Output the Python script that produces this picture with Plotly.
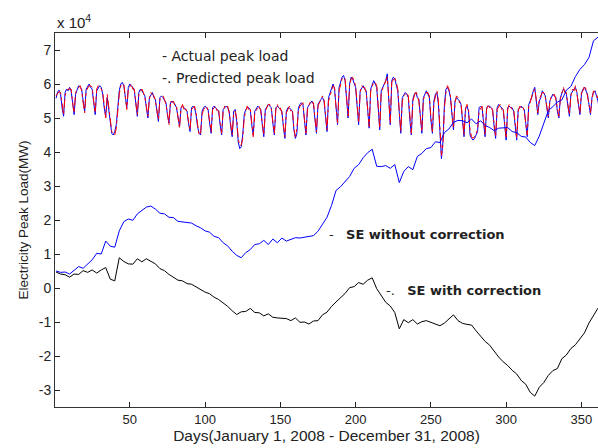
import plotly.graph_objects as go

# Daily peak load for 2008 (MW). First row is Tue 1 Jan - Sun 6 Jan,
# then one row per Monday-Sunday week, then Mon 29 - Wed 31 Dec.
actual_rows = [
    [55800, 57600, 58200, 57000, 53000, 50500],
    [57500, 58500, 58000, 59000, 58000, 54000, 51000],
    [57000, 58000, 59500, 59000, 58500, 55000, 52000],
    [58500, 59500, 60000, 59000, 58500, 54500, 51000],
    [58000, 59000, 59500, 59000, 57000, 53000, 50500],
    [56000, 52000, 48000, 45500, 45000, 46000, 48000],
    [54000, 58000, 60000, 60500, 59500, 56000, 53000],
    [59000, 60000, 59500, 59000, 58000, 54000, 50500],
    [57500, 58500, 58000, 57000, 56500, 53000, 50000],
    [56000, 57000, 57500, 56000, 55500, 52000, 49000],
    [56000, 56500, 56000, 55000, 54500, 51000, 48500],
    [54500, 55000, 54500, 54000, 53000, 50000, 47500],
    [53000, 53500, 53000, 52500, 52000, 48500, 46000],
    [53000, 53500, 53000, 51000, 47500, 45500, 45000],
    [52000, 53000, 53500, 53000, 52500, 48500, 45500],
    [53000, 53500, 53000, 52500, 52000, 48000, 45000],
    [52500, 53000, 53500, 53000, 52000, 47500, 44500],
    [52000, 52500, 49000, 43000, 41000, 41500, 45000],
    [51000, 52500, 53000, 53000, 52500, 48000, 45000],
    [52000, 53000, 53500, 53000, 52500, 48000, 44500],
    [52500, 53500, 54000, 53500, 53000, 48500, 45000],
    [53000, 53500, 53000, 52500, 52000, 47500, 44000],
    [52000, 53000, 53000, 52500, 52000, 46500, 44000],
    [45500, 53000, 54000, 54500, 54000, 49000, 45000],
    [53000, 54000, 54500, 55000, 54000, 49500, 45500],
    [54000, 55000, 55500, 56000, 55000, 50500, 46000],
    [56000, 57500, 59000, 60000, 58500, 52500, 48000],
    [59000, 61000, 62000, 62500, 61000, 55500, 50000],
    [60000, 62000, 61500, 60500, 59000, 53500, 48000],
    [58000, 59000, 59500, 58500, 58000, 52500, 47000],
    [58500, 60000, 61000, 60000, 59000, 53000, 46500],
    [58000, 59000, 59500, 61000, 63000, 55000, 48000],
    [61000, 62000, 61500, 60000, 58000, 51500, 45500],
    [56000, 57000, 57500, 57000, 56000, 49500, 45000],
    [55500, 57000, 57500, 56000, 55500, 50000, 45500],
    [56000, 57000, 58000, 57000, 56000, 49500, 45500],
    [55000, 57000, 57500, 54000, 46000, 38000, 43000],
    [54000, 58500, 59000, 58000, 56000, 51000, 46500],
    [55000, 56000, 55500, 55000, 54000, 48500, 44500],
    [53000, 53500, 52000, 45000, 44000, 43500, 44000],
    [45000, 46000, 53000, 53500, 53000, 48500, 44500],
    [53000, 53500, 53500, 53000, 52500, 47500, 44000],
    [53000, 54000, 53500, 53000, 52500, 48000, 43500],
    [53000, 53500, 53000, 53000, 52000, 47500, 43500],
    [52500, 53000, 53500, 53000, 52500, 48500, 44500],
    [54000, 55000, 56000, 58000, 59000, 55000, 51000],
    [55000, 56000, 58000, 57000, 56500, 53000, 50000],
    [55000, 56000, 57000, 56500, 56000, 52000, 50000],
    [56000, 57500, 58500, 58000, 57000, 53500, 50500],
    [57000, 58000, 58500, 59000, 57500, 54000, 51000],
    [57000, 58500, 59000, 58000, 57000, 54000, 51000],
    [56000, 57500, 58000, 56500, 55000, 52000, 50000],
    [55000, 54000, 53000],
]

predicted_rows = [
    [56500, 57000, 57800, 57500, 54000, 51000],
    [56500, 58000, 58500, 58500, 58500, 54500, 51500],
    [57500, 58500, 59000, 59500, 58000, 54500, 51500],
    [58000, 59000, 59500, 59500, 59000, 55000, 51500],
    [58500, 59500, 59000, 58500, 57500, 53500, 50000],
    [57000, 53500, 49000, 46000, 45500, 45000, 47000],
    [53000, 57000, 59500, 60000, 60000, 56500, 52500],
    [58500, 59500, 60000, 58500, 58500, 54500, 51000],
    [57000, 58000, 58500, 57500, 56000, 53500, 50500],
    [55500, 57500, 57000, 56500, 55000, 52500, 49500],
    [55500, 56000, 56500, 55500, 54000, 51500, 48000],
    [55000, 54500, 55000, 53500, 53500, 49500, 47000],
    [52500, 54000, 52500, 53000, 51500, 49000, 46500],
    [52500, 53000, 53500, 51500, 48500, 45000, 45500],
    [51000, 52500, 53000, 53500, 52000, 49000, 46000],
    [52500, 53000, 53500, 52000, 52500, 48500, 45500],
    [52000, 53500, 53000, 53500, 51500, 48000, 45000],
    [51500, 52000, 50000, 44000, 42000, 42000, 44000],
    [50000, 52000, 53500, 52500, 53000, 48500, 44500],
    [51500, 52500, 53000, 53500, 52000, 48500, 45000],
    [52000, 53000, 54000, 54000, 52500, 49000, 45500],
    [52500, 54000, 52500, 53000, 51500, 48000, 44500],
    [51500, 52500, 53500, 52000, 52500, 47000, 44500],
    [47000, 52000, 53500, 54000, 54500, 49500, 45500],
    [52500, 53500, 55000, 54500, 54500, 50000, 46000],
    [53500, 54500, 55000, 56500, 55500, 51000, 46500],
    [55000, 57000, 58000, 59500, 59000, 53000, 48500],
    [58000, 60000, 61500, 62000, 61500, 56000, 50500],
    [59500, 61500, 62000, 61000, 59500, 54000, 48500],
    [57500, 59500, 59000, 59000, 57500, 53000, 47500],
    [58000, 59500, 60500, 60500, 59500, 53500, 47000],
    [57500, 58500, 60000, 60500, 62000, 56000, 48500],
    [60500, 61500, 62000, 60500, 58500, 52000, 46000],
    [55000, 56500, 57000, 57500, 56500, 50000, 45500],
    [55000, 56500, 58000, 56500, 55000, 50500, 46000],
    [55500, 56500, 57500, 57500, 56500, 50000, 46000],
    [54500, 56500, 58000, 55000, 47500, 39000, 42000],
    [53000, 57500, 59500, 58500, 56500, 51500, 47000],
    [54500, 56500, 56000, 54500, 54500, 49000, 45000],
    [52500, 54000, 52500, 46500, 44500, 44000, 44500],
    [45500, 46500, 52000, 53000, 53500, 49000, 45000],
    [52500, 54000, 53000, 53500, 52000, 48000, 44500],
    [52500, 53500, 54000, 52500, 53000, 48500, 44000],
    [52500, 54000, 53500, 52500, 52500, 48000, 44000],
    [52000, 53500, 53000, 53500, 52000, 49000, 45000],
    [53500, 54500, 56500, 57500, 58500, 55500, 51500],
    [55500, 56500, 57500, 57500, 56000, 53500, 50500],
    [54500, 56500, 56500, 57000, 55500, 52500, 50500],
    [55500, 57000, 59000, 57500, 57500, 54000, 51000],
    [56500, 58500, 58000, 59500, 57000, 54500, 51500],
    [57500, 58000, 59500, 58500, 56500, 54500, 51500],
    [55500, 58000, 57500, 57000, 55500, 52500, 50500],
    [54500, 54500, 53500],
]

actual_load = [v for row in actual_rows for v in row]
predicted_load = [v for row in predicted_rows for v in row]
days = list(range(1, len(actual_load) + 1))

# Accumulated error curves, sampled every third day (MW)
se_days = [1, 4, 7, 10, 13, 16, 19, 22, 25, 28, 31, 34, 37, 40, 43, 46, 49, 52,
           55, 58, 61, 64, 67, 70, 73, 76, 79, 82, 85, 88, 91, 94, 97, 100, 103,
           106, 109, 112, 115, 118, 121, 124, 127, 130, 133, 136, 139, 142, 145,
           148, 151, 154, 157, 160, 163, 166, 169, 172, 175, 178, 181, 184, 187,
           190, 193, 196, 199, 202, 205, 208, 211, 214, 217, 220, 223, 226, 229,
           232, 235, 238, 241, 244, 247, 250, 253, 256, 259, 262, 265, 268, 271,
           274, 277, 280, 283, 286, 289, 292, 295, 298, 301, 304, 307, 310, 313,
           316, 319, 322, 325, 328, 331, 334, 337, 340, 343, 346, 349, 352, 355,
           358, 361, 364, 366]

se_without = [
    5000, 4600, 4700, 4100, 5200, 6300, 5800, 7200, 8300, 10200,
    10000, 13800, 12300, 12000, 16800, 19500, 20300, 19900, 21800, 22800,
    23800, 24100, 23200, 22000, 21800, 20800, 20700, 19600, 19500, 19300,
    19100, 18300, 17700, 16800, 16400, 15200, 14800, 13300, 12400, 10800,
    9600, 8900, 10400, 11300, 12800, 13000, 14000, 12800, 14400, 13300,
    14700, 13800, 14400, 14800, 14700, 15000, 15300, 15400, 16700, 18800,
    20800, 24300, 28700, 29800, 31300, 32800, 35200, 36300, 38300, 39800,
    40800, 35800, 35700, 36000, 35200, 36300, 31000, 34300, 35700, 34800,
    38700, 39600, 41000, 41300, 43000, 42800, 45700, 46800, 48700, 49300,
    49200, 48600, 49700, 48300, 49200, 47800, 47200, 46300, 47000, 47000,
    47200, 46000, 45700, 44600, 44400, 42800, 41900, 44700, 48300, 52200,
    53300, 54700, 55300, 58200, 59300, 62200, 64300, 65700, 67800, 72700,
    73800, 74300, 74000,
]

se_with = [
    4700, 4100, 3900, 3200, 4100, 4000, 5100, 4600, 5300, 4400,
    5300, 6000, 2600, 2100, 8900, 7800, 7100, 7000, 8600, 7700,
    8600, 7900, 7100, 5700, 5100, 4000, 3100, 2300, 2100, 1300,
    1100, 300, -400, -1200, -1700, -2700, -3400, -4400, -5400, -6700,
    -7800, -7000, -6900, -6000, -7200, -7300, -8200, -7600, -8600, -8800,
    -9000, -9000, -9600, -8800, -10100, -10000, -10600, -9700, -9600, -7900,
    -7100, -5400, -4100, -2900, -1600, 100, 400, 1600, 1100, 2300,
    3000, -200, -2400, -4200, -5300, -7200, -12000, -9300, -10200, -9300,
    -10600, -9900, -9600, -10100, -10400, -11100, -10300, -9100, -7900, -9600,
    -10400, -10700, -10900, -12600, -14300, -15700, -16800, -18700, -20300, -21700,
    -22800, -24200, -25300, -27200, -28300, -30700, -31800, -29200, -27800, -25700,
    -24300, -23700, -20800, -19700, -17800, -16700, -14800, -13200, -10300, -8200,
    -5900, -5600, -5500,
]

y_tick_vals = [-30000, -20000, -10000, 0, 10000, 20000, 30000, 40000, 50000, 60000, 70000]
y_tick_text = ["-3", "-2", "-1", "0", "1", "2", "3", "4", "5", "6", "7"]
x_tick_vals = [50, 100, 150, 200, 250, 300, 350]

FONT = "Liberation Sans, Arial, sans-serif"
NOTE_FONT = "DejaVu Sans, sans-serif"
INK = "#222222"

fig = go.Figure()
fig.add_trace(go.Scatter(x=days, y=actual_load, mode="lines",
                         line=dict(color="#0000ff", width=1)))
fig.add_trace(go.Scatter(x=days, y=predicted_load, mode="lines",
                         line=dict(color="#ff0000", width=1, dash="dashdot")))
fig.add_trace(go.Scatter(x=se_days, y=se_without, mode="lines",
                         line=dict(color="#0000ff", width=1)))
fig.add_trace(go.Scatter(x=se_days, y=se_with, mode="lines",
                         line=dict(color="#000000", width=1)))

text_notes = [
    dict(x=70, y=68200, text="- Actual peak load", size=14),
    dict(x=70, y=61800, text="-. Predicted peak load", size=14),
    dict(x=181, y=15600, text="-   <b>SE without correction</b>", size=13),
    dict(x=219, y=-600, text="-.   <b>SE with correction</b>", size=13),
]
for n in text_notes:
    fig.add_annotation(x=n["x"], y=n["y"], xref="x", yref="y", text=n["text"],
                       showarrow=False, xanchor="left", yanchor="middle",
                       font=dict(family=NOTE_FONT, size=n["size"], color=INK))

fig.add_annotation(x=0, y=1.0, xref="paper", yref="paper",
                   text="x 10<sup>4</sup>", showarrow=False,
                   xanchor="left", yanchor="bottom", yshift=0,
                   font=dict(family=FONT, size=15, color=INK))

fig.update_layout(
    width=598, height=448,
    margin=dict(l=55, r=0, t=33, b=41),
    paper_bgcolor="white", plot_bgcolor="white",
    showlegend=False,
    font=dict(family=FONT, size=13, color=INK),
)
fig.update_xaxes(
    range=[0.3, 361], tickvals=x_tick_vals, ticks="inside", ticklen=5,
    tickcolor=INK, showline=True, linecolor="#333333", linewidth=1,
    mirror="ticks", showgrid=False, zeroline=False,
    tickfont=dict(family=FONT, size=13, color=INK),
    title=dict(text="Days(January 1, 2008 - December 31, 2008)",
               font=dict(family=FONT, size=15.5, color=INK), standoff=3),
)
fig.update_yaxes(
    range=[-35000, 75000], tickvals=y_tick_vals, ticktext=y_tick_text,
    ticks="inside", ticklen=5, tickcolor=INK, showline=True,
    linecolor="#333333", linewidth=1, mirror=False, showgrid=False,
    zeroline=False, tickfont=dict(family=FONT, size=14, color=INK),
    title=dict(text="Electricity Peak Load(MW)",
               font=dict(family=FONT, size=13.5, color=INK), standoff=7),
)

fig.write_html("out.html")
